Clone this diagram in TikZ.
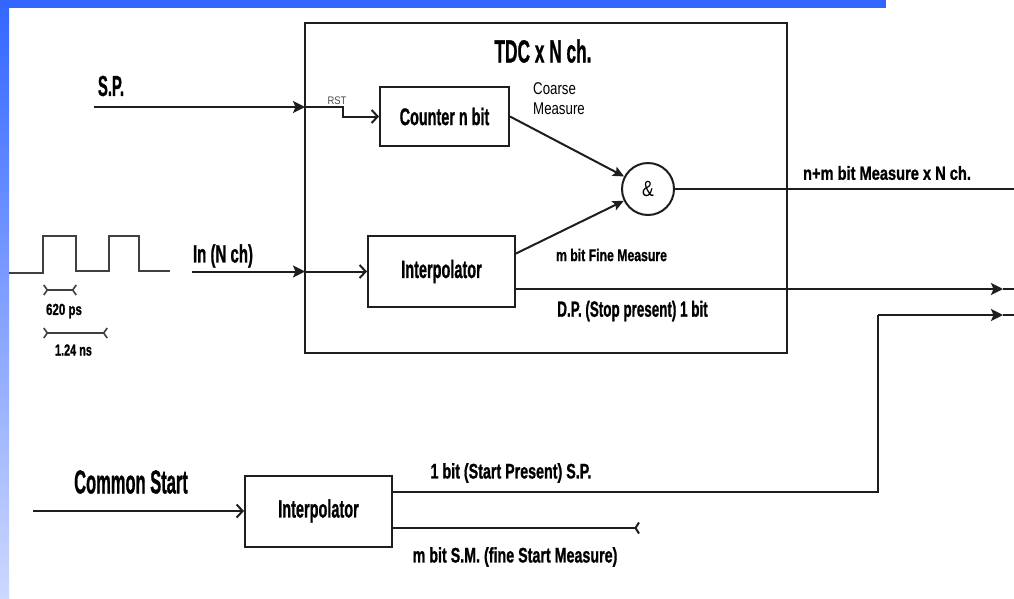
\documentclass[tikz,border=0pt]{standalone}
\usepackage{fontspec}
\setmainfont{Liberation Sans}[BoldFeatures={FakeBold=1.2}]
\usepackage{graphicx}
\usetikzlibrary{arrows.meta}
\definecolor{barblue}{RGB}{51,102,255}
\definecolor{barlight}{RGB}{205,216,255}
\definecolor{ink}{RGB}{30,30,30}
\newcommand{\LB}[3]{{\fontsize{#1}{#1}\selectfont\bfseries\scalebox{#2}[1]{#3}}}
\newcommand{\LR}[3]{{\fontsize{#1}{#1}\selectfont\scalebox{#2}[1]{#3}}}
\tikzset{
  blockbox/.style={draw=ink, line width=2pt, rectangle, inner sep=0pt},
  lbl/.style={inner sep=0pt, text=black},
  wire/.style={draw=ink, line width=2pt},
  bigarrow/.style={wire, -{Stealth[length=12pt,width=12pt,inset=2.5pt]}},
  midarrow/.style={wire, -{Stealth[length=11pt,width=10pt,inset=2pt]}},
  barb/.style={wire, -{Straight Barb[length=6pt,width=13pt]}},
  tickend/.style={wire, -{Straight Barb[reversed,length=3.5pt,width=11pt]}},
  dimline/.style={draw=ink!85, line width=1.6pt, {Straight Barb[reversed,length=3.5pt,width=10pt]}-{Straight Barb[reversed,length=3.5pt,width=10pt]}},
}
\begin{document}
\begin{tikzpicture}[x=1pt,y=-1pt]
\useasboundingbox (0,0) rectangle (1014,598);
\fill[white] (0,0) rectangle (1014,598);
% decorative bars
\shade[top color=barblue, bottom color=barlight] (0,0) rectangle (9,598);
\fill[barblue] (0,0) rectangle (886,8);

% blocks
\node[blockbox, minimum width=482pt, minimum height=330pt] (tdc) at (546,188) {};
\node[lbl] (title) at (543,51) {\LB{32}{0.54}{TDC x N ch.}};
\node[blockbox, minimum width=129pt, minimum height=59pt] (counter) at (444.5,116.5) {\LB{24}{0.6}{Counter n bit}};
\node[blockbox, minimum width=147pt, minimum height=71pt] (interpA) at (441.5,271.5) {\LB{25}{0.58}{Interpolator}};
\node[blockbox, minimum width=147pt, minimum height=71pt] (interpB) at (318.5,511) {\LB{25}{0.58}{Interpolator}};
\node[draw=ink, line width=2pt, circle, minimum size=52pt, inner sep=0pt] (amp) at (648,189) {\LR{22}{0.8}{\&}};

% coordinates
\coordinate (spS) at (94,107);
\coordinate (spB) at (305,107);
\coordinate (spK) at (343,107);
\coordinate (inS) at (192,271.5);
\coordinate (inB) at (305,271.5);
\coordinate (dpT) at (1003,289);
\coordinate (dpE) at (1014,289);
\coordinate (outE) at (1014,189);
\coordinate (spC) at (878,492);
\coordinate (spU) at (878,315);
\coordinate (spT) at (1003,315);
\coordinate (spE) at (1014,315);
\coordinate (smE) at (640,528);
\coordinate (csS) at (33,511);

% S.P. input
\draw[bigarrow] (spS) -- (spB);
\draw[barb] (spB) -- (spK) |- (counter.west);
% In input
\draw[bigarrow] (inS) -- (inB);
\draw[barb] (inB) -- (interpA.west);
% to AND
\draw[midarrow] (counter.east) -- (amp);
\draw[midarrow] ([yshift=18pt]interpA.east) -- (amp);
% output
\draw[wire] (amp.east) -- (outE);
% D.P.
\draw[bigarrow] ([yshift=-17.5pt]interpA.east) -- (dpT);
\draw[wire] (dpT) -- (dpE);
% bottom interpolator outputs
\draw[wire] ([yshift=19pt]interpB.east) -- (spC) -- (spU);
\draw[bigarrow] (spU) -- (spT);
\draw[wire] (spT) -- (spE);
\draw[tickend] ([yshift=-17pt]interpB.east) -- (smE);
% common start
\draw[barb] (csS) -- (interpB.west);

% waveform
\draw[draw=ink!85, line width=1.6pt] (9,273) -- (43,273) -- (43,236) -- (76,236) -- (76,271) -- (109,271) -- (109,236) -- (139,236) -- (139,271) -- (170,271);
\coordinate (d1a) at (43,290);
\coordinate (d1b) at (77,290);
\coordinate (d2a) at (43,333);
\coordinate (d2b) at (108,333);
\draw[dimline] (d1a) -- (d1b);
\draw[dimline] (d2a) -- (d2b);

% labels
\node[lbl] (lsp) at (111,86) {\LB{29}{0.51}{S.P.}};
\node[lbl, text=black!70] (lrst) at (337,101) {\LR{11}{0.86}{RST}};
\node[lbl, anchor=west] (lcoarse) at (533,89) {\LR{17}{0.78}{Coarse}};
\node[lbl, anchor=west] (lmeas) at (533,109) {\LR{17}{0.78}{Measure}};
\node[lbl] (lout) at (887,173) {\LB{19}{0.77}{n+m bit Measure x N ch.}};
\node[lbl] (lin) at (223,256) {\LB{25}{0.6}{In (N ch)}};
\node[lbl] (lfine) at (611.5,255) {\LB{17}{0.72}{m bit Fine Measure}};
\node[lbl] (ldp) at (632.5,311) {\LB{22}{0.61}{D.P. (Stop present) 1 bit}};
\node[lbl] (l620) at (64,311) {\LB{16}{0.72}{620 ps}};
\node[lbl] (l124) at (73.5,350) {\LB{16}{0.68}{1.24 ns}};
\node[lbl] (lcs) at (131,482) {\LB{33}{0.5}{Common Start}};
\node[lbl] (lstart) at (511,473) {\LB{21}{0.68}{1 bit (Start Present) S.P.}};
\node[lbl] (lsm) at (515,557) {\LB{21}{0.68}{m bit S.M. (fine Start Measure)}};
\end{tikzpicture}
\end{document}
